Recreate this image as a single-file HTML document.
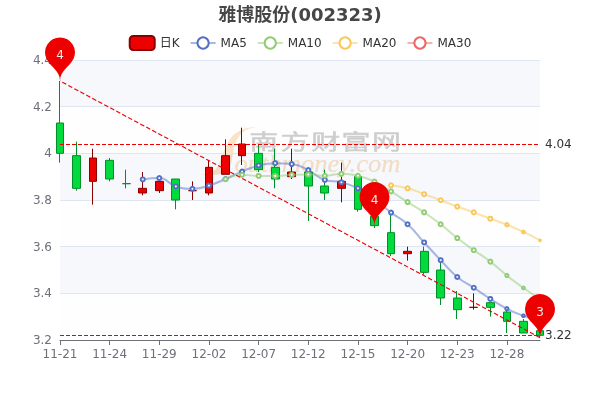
<!DOCTYPE html>
<html><head><meta charset="utf-8"><title>雅博股份(002323)</title>
<style>html,body{margin:0;padding:0;background:#fff;}#c{width:600px;height:400px;overflow:hidden;position:relative;}svg{display:block;will-change:transform}</style>
</head><body><div id="c"><svg width="600" height="400" version="1.1" baseProfile="full" viewBox="0 0 600 400">
<rect width="600" height="400" x="0" y="0" fill="none"></rect><g>
<path d="M256 127C244 127 235 132 230 139C225 147 222 155 219.5 163C217.5 169 213 173 201 174.5C212 175.5 222 175 227 171.5C231 167 232 160 233 153C234 145 237 137 243 132C247 129 251 127.8 256 127Z" fill="#f7cf9c" fill-opacity="0.72"/>
<text x="234.5" y="171.5" style="font-size:26px;font-family:'Liberation Serif',serif;font-style:italic;" fill="#f5c690" fill-opacity="0.6" stroke="#f5c690" stroke-opacity="0.3" stroke-width="0.3" textLength="166" lengthAdjust="spacingAndGlyphs">outhmoney.com</text>
<g style="font-size:21px;font-family:'Noto Sans CJK SC',sans-serif;font-weight:normal;" fill="#c3c3c3" stroke="#c3c3c3" stroke-width="0.5">
<text transform="translate(249.3 148.5) scale(1.38 1)">南</text>
<text transform="translate(280.5 148.5) scale(1.38 1)">方</text>
<text transform="translate(311.3 148.5) scale(1.38 1)">财</text>
<text transform="translate(341.4 148.5) scale(1.38 1)">富</text>
<text transform="translate(371.9 148.5) scale(1.38 1)">网</text>
</g>
</g>

<path d="M60 340l480 0l0 -46.6667l-480 0Z" fill="rgb(250,250,250)" fill-opacity="0.2"></path>
<path d="M60 293.3333l480 0l0 -46.6667l-480 0Z" fill="rgb(210,219,238)" fill-opacity="0.2"></path>
<path d="M60 246.6667l480 0l0 -46.6667l-480 0Z" fill="rgb(250,250,250)" fill-opacity="0.2"></path>
<path d="M60 200l480 0l0 -46.6667l-480 0Z" fill="rgb(210,219,238)" fill-opacity="0.2"></path>
<path d="M60 153.3333l480 0l0 -46.6667l-480 0Z" fill="rgb(250,250,250)" fill-opacity="0.2"></path>
<path d="M60 106.6667l480 0l0 -46.6667l-480 0Z" fill="rgb(210,219,238)" fill-opacity="0.2"></path>
<path d="M60 340.5L540 340.5" fill="none" stroke="#E0E6F1"></path>
<path d="M60 293.5L540 293.5" fill="none" stroke="#E0E6F1"></path>
<path d="M60 246.5L540 246.5" fill="none" stroke="#E0E6F1"></path>
<path d="M60 200.5L540 200.5" fill="none" stroke="#E0E6F1"></path>
<path d="M60 153.5L540 153.5" fill="none" stroke="#E0E6F1"></path>
<path d="M60 106.5L540 106.5" fill="none" stroke="#E0E6F1"></path>
<path d="M60 60.5L540 60.5" fill="none" stroke="#E0E6F1"></path>
<path d="M60 340.5L540 340.5" fill="none" stroke="#6E7079" stroke-linecap="round"></path>
<path d="M60.5 340L60.5 345" fill="none" stroke="#6E7079"></path>
<path d="M109.5 340L109.5 345" fill="none" stroke="#6E7079"></path>
<path d="M159.5 340L159.5 345" fill="none" stroke="#6E7079"></path>
<path d="M209.5 340L209.5 345" fill="none" stroke="#6E7079"></path>
<path d="M258.5 340L258.5 345" fill="none" stroke="#6E7079"></path>
<path d="M308.5 340L308.5 345" fill="none" stroke="#6E7079"></path>
<path d="M358.5 340L358.5 345" fill="none" stroke="#6E7079"></path>
<path d="M407.5 340L407.5 345" fill="none" stroke="#6E7079"></path>
<path d="M457.5 340L457.5 345" fill="none" stroke="#6E7079"></path>
<path d="M507.5 340L507.5 345" fill="none" stroke="#6E7079"></path>
<text dominant-baseline="central" text-anchor="end" style="font-size:12px;font-family:'DejaVu Sans', 'Noto Sans CJK SC', sans-serif;" transform="translate(52 340)" fill="#6E7079">3.2</text>
<text dominant-baseline="central" text-anchor="end" style="font-size:12px;font-family:'DejaVu Sans', 'Noto Sans CJK SC', sans-serif;" transform="translate(52 293.3333)" fill="#6E7079">3.4</text>
<text dominant-baseline="central" text-anchor="end" style="font-size:12px;font-family:'DejaVu Sans', 'Noto Sans CJK SC', sans-serif;" transform="translate(52 246.6667)" fill="#6E7079">3.6</text>
<text dominant-baseline="central" text-anchor="end" style="font-size:12px;font-family:'DejaVu Sans', 'Noto Sans CJK SC', sans-serif;" transform="translate(52 200)" fill="#6E7079">3.8</text>
<text dominant-baseline="central" text-anchor="end" style="font-size:12px;font-family:'DejaVu Sans', 'Noto Sans CJK SC', sans-serif;" transform="translate(52 153.3333)" fill="#6E7079">4</text>
<text dominant-baseline="central" text-anchor="end" style="font-size:12px;font-family:'DejaVu Sans', 'Noto Sans CJK SC', sans-serif;" transform="translate(52 106.6667)" fill="#6E7079">4.2</text>
<text dominant-baseline="central" text-anchor="end" style="font-size:12px;font-family:'DejaVu Sans', 'Noto Sans CJK SC', sans-serif;" transform="translate(52 60)" fill="#6E7079">4.4</text>
<text dominant-baseline="central" text-anchor="middle" style="font-size:12px;font-family:'DejaVu Sans', 'Noto Sans CJK SC', sans-serif;" y="6.0000457763671875" transform="translate(60 348)" fill="#6E7079">11-21</text>
<text dominant-baseline="central" text-anchor="middle" style="font-size:12px;font-family:'DejaVu Sans', 'Noto Sans CJK SC', sans-serif;" y="6.0000457763671875" transform="translate(109.6552 348)" fill="#6E7079">11-24</text>
<text dominant-baseline="central" text-anchor="middle" style="font-size:12px;font-family:'DejaVu Sans', 'Noto Sans CJK SC', sans-serif;" y="6.0000457763671875" transform="translate(159.3103 348)" fill="#6E7079">11-29</text>
<text dominant-baseline="central" text-anchor="middle" style="font-size:12px;font-family:'DejaVu Sans', 'Noto Sans CJK SC', sans-serif;" y="6.0000457763671875" transform="translate(208.9655 348)" fill="#6E7079">12-02</text>
<text dominant-baseline="central" text-anchor="middle" style="font-size:12px;font-family:'DejaVu Sans', 'Noto Sans CJK SC', sans-serif;" y="6.0000457763671875" transform="translate(258.6207 348)" fill="#6E7079">12-07</text>
<text dominant-baseline="central" text-anchor="middle" style="font-size:12px;font-family:'DejaVu Sans', 'Noto Sans CJK SC', sans-serif;" y="6.0000457763671875" transform="translate(308.2759 348)" fill="#6E7079">12-12</text>
<text dominant-baseline="central" text-anchor="middle" style="font-size:12px;font-family:'DejaVu Sans', 'Noto Sans CJK SC', sans-serif;" y="6.0000457763671875" transform="translate(357.931 348)" fill="#6E7079">12-15</text>
<text dominant-baseline="central" text-anchor="middle" style="font-size:12px;font-family:'DejaVu Sans', 'Noto Sans CJK SC', sans-serif;" y="6.0000457763671875" transform="translate(407.5862 348)" fill="#6E7079">12-20</text>
<text dominant-baseline="central" text-anchor="middle" style="font-size:12px;font-family:'DejaVu Sans', 'Noto Sans CJK SC', sans-serif;" y="6.0000457763671875" transform="translate(457.2414 348)" fill="#6E7079">12-23</text>
<text dominant-baseline="central" text-anchor="middle" style="font-size:12px;font-family:'DejaVu Sans', 'Noto Sans CJK SC', sans-serif;" y="6.0000457763671875" transform="translate(506.8966 348)" fill="#6E7079">12-28</text>
<path d="M56.5 123L63.5 123L63.5 153.3333L56.5 153.3333ZM59.5 81L59.5 123M59.5 162.6667L59.5 153.3333" fill="#00da3c" stroke="#008F28"></path>
<path d="M72.5 155.6667L80.5 155.6667L80.5 188.3333L72.5 188.3333ZM76.5 141.6667L76.5 155.6667M76.5 190.6667L76.5 188.3333" fill="#00da3c" stroke="#008F28"></path>
<path d="M89.5 158L96.5 158L96.5 181.3333L89.5 181.3333ZM92.5 148.6667L92.5 158M92.5 204.6667L92.5 181.3333" fill="#ec0000" stroke="#8A0000"></path>
<path d="M105.5 160.3333L113.5 160.3333L113.5 179L105.5 179ZM109.5 158L109.5 160.3333M109.5 181.3333L109.5 179" fill="#00da3c" stroke="#008F28"></path>
<path d="M122.5 183.6667L130.5 183.6667L122.5 183.6667ZM125.5 169.6667L125.5 183.6667M125.5 188.3333L125.5 183.6667" fill="#00da3c" stroke="#008F28"></path>
<path d="M138.5 188.3333L146.5 188.3333L146.5 193L138.5 193ZM142.5 172L142.5 188.3333M142.5 195.3333L142.5 193" fill="#ec0000" stroke="#8A0000"></path>
<path d="M155.5 181.3333L163.5 181.3333L163.5 190.6667L155.5 190.6667ZM159.5 179L159.5 181.3333M159.5 193L159.5 190.6667" fill="#ec0000" stroke="#8A0000"></path>
<path d="M171.5 179L179.5 179L179.5 200L171.5 200ZM175.5 179M175.5 209.3333L175.5 200" fill="#00da3c" stroke="#008F28"></path>
<path d="M188.5 190.6667L196.5 190.6667L188.5 190.6667ZM192.5 181.3333L192.5 190.6667M192.5 200L192.5 190.6667" fill="#ec0000" stroke="#8A0000"></path>
<path d="M205.5 167.3333L212.5 167.3333L212.5 193L205.5 193ZM208.5 160.3333L208.5 167.3333M208.5 195.3333L208.5 193" fill="#ec0000" stroke="#8A0000"></path>
<path d="M221.5 155.6667L229.5 155.6667L229.5 174.3333L221.5 174.3333ZM225.5 139.3333L225.5 155.6667M225.5 174.3333" fill="#ec0000" stroke="#8A0000"></path>
<path d="M238.5 144L245.5 144L245.5 155.6667L238.5 155.6667ZM241.5 127.6667L241.5 144M241.5 165L241.5 155.6667" fill="#ec0000" stroke="#8A0000"></path>
<path d="M254.5 153.3333L262.5 153.3333L262.5 169.6667L254.5 169.6667ZM258.5 144L258.5 153.3333M258.5 172L258.5 169.6667" fill="#00da3c" stroke="#008F28"></path>
<path d="M271.5 167.3333L279.5 167.3333L279.5 179L271.5 179ZM274.5 148.6667L274.5 167.3333M274.5 188.3333L274.5 179" fill="#00da3c" stroke="#008F28"></path>
<path d="M287.5 172L295.5 172L295.5 176.6667L287.5 176.6667ZM291.5 148.6667L291.5 172M291.5 179L291.5 176.6667" fill="#ec0000" stroke="#8A0000"></path>
<path d="M304.5 172L312.5 172L312.5 186L304.5 186ZM308.5 167.3333L308.5 172M308.5 221L308.5 186" fill="#00da3c" stroke="#008F28"></path>
<path d="M320.5 186L328.5 186L328.5 193L320.5 193ZM324.5 169.6667L324.5 186M324.5 200L324.5 193" fill="#00da3c" stroke="#008F28"></path>
<path d="M337.5 181.3333L345.5 181.3333L345.5 188.3333L337.5 188.3333ZM341.5 162.6667L341.5 181.3333M341.5 202.3333L341.5 188.3333" fill="#ec0000" stroke="#8A0000"></path>
<path d="M354.5 176.6667L361.5 176.6667L361.5 209.3333L354.5 209.3333ZM357.5 174.3333L357.5 176.6667M357.5 211.6667L357.5 209.3333" fill="#00da3c" stroke="#008F28"></path>
<path d="M370.5 216.3333L378.5 216.3333L378.5 225.6667L370.5 225.6667ZM374.5 214L374.5 216.3333M374.5 228L374.5 225.6667" fill="#00da3c" stroke="#008F28"></path>
<path d="M387.5 232.6667L394.5 232.6667L394.5 253.6667L387.5 253.6667ZM390.5 214L390.5 232.6667M390.5 256L390.5 253.6667" fill="#00da3c" stroke="#008F28"></path>
<path d="M403.5 251.3333L411.5 251.3333L411.5 253.6667L403.5 253.6667ZM407.5 246.6667L407.5 251.3333M407.5 260.6667L407.5 253.6667" fill="#ec0000" stroke="#8A0000"></path>
<path d="M420.5 251.3333L428.5 251.3333L428.5 272.3333L420.5 272.3333ZM423.5 246.6667L423.5 251.3333M423.5 274.6667L423.5 272.3333" fill="#00da3c" stroke="#008F28"></path>
<path d="M436.5 270L444.5 270L444.5 298L436.5 298ZM440.5 263L440.5 270M440.5 305L440.5 298" fill="#00da3c" stroke="#008F28"></path>
<path d="M453.5 298L461.5 298L461.5 309.6667L453.5 309.6667ZM456.5 291L456.5 298M456.5 319L456.5 309.6667" fill="#00da3c" stroke="#008F28"></path>
<path d="M469.5 307.3333L477.5 307.3333L469.5 307.3333ZM473.5 293.3333L473.5 307.3333M473.5 309.6667L473.5 307.3333" fill="#ec0000" stroke="#8A0000"></path>
<path d="M486.5 302.6667L494.5 302.6667L494.5 307.3333L486.5 307.3333ZM490.5 302.6667M490.5 316.6667L490.5 307.3333" fill="#00da3c" stroke="#008F28"></path>
<path d="M503.5 312L510.5 312L510.5 321.3333L503.5 321.3333ZM506.5 309.6667L506.5 312M506.5 333L506.5 321.3333" fill="#00da3c" stroke="#008F28"></path>
<path d="M519.5 321.3333L527.5 321.3333L527.5 333L519.5 333ZM523.5 319L523.5 321.3333M523.5 333" fill="#00da3c" stroke="#008F28"></path>
<path d="M536.5 330.6667L543.5 330.6667L543.5 335.3333L536.5 335.3333ZM539.5 330.6667M539.5 337.6667L539.5 335.3333" fill="#00da3c" stroke="#008F28"></path>
<g clip-path="url(#zr0-c0)">
<path d="M142.7586 179.4667C142.7586 179.4667 151.4934 178.0667 159.3103 178.0667C168.0451 178.0667 167.1532 183.8756 175.8621 186.4667C183.7049 188.8 184.1763 188.8 192.4138 188.8C200.728 188.8 200.9101 187.9181 208.9655 185.5333C217.4618 183.0181 217.325 182.4646 225.5172 179C233.8768 175.4646 233.6707 174.9667 242.069 171.5333C250.2224 168.2001 250.1248 167.6225 258.6207 165.4667C266.6765 163.4225 266.8624 163.1333 275.1724 163.1333C283.4141 163.1333 283.7024 163.1333 291.7242 164.0667C300.2542 165.0591 300.3607 166.3396 308.2758 170.1333C316.9125 174.2729 315.9716 177.2482 324.8276 179.9333C332.5233 182.2667 333.3235 180.2225 341.3793 182.2667C349.8752 184.4225 350.1201 184.3693 357.931 188.3333C366.6719 192.7693 366.5397 193.2439 374.4828 199.0667C383.0914 205.3773 382.534 206.129 391.0345 212.6C399.0857 218.729 400.1131 217.5243 407.5862 224.2667C416.6648 232.4576 415.8039 233.4202 424.1379 242.4667C432.3557 251.3869 432.2973 251.4451 440.6897 260.2C448.849 268.7118 448.2286 269.5037 457.2414 277C464.7803 283.2704 465.571 282.2856 473.7931 287.7333C482.1227 293.2523 481.9108 293.583 490.3448 298.9333C498.4625 304.083 498.3395 304.3906 506.8965 308.7333C514.8912 312.7906 515.022 312.6449 523.4483 315.7333C531.5737 318.7115 540 320.8667 540 320.8667" fill="none" stroke="#5470c6" stroke-width="2" stroke-opacity="0.5" stroke-linejoin="bevel"></path>
</g>
<g clip-path="url(#zr0-c1)">
<path d="M225.5172 179.2333C225.5172 179.2333 233.66 174.8 242.069 174.8C250.2117 174.8 250.3346 175.9667 258.6207 175.9667C266.8863 175.9667 266.9068 175.9667 275.1724 175.9667C283.4585 175.9667 283.4384 175.0339 291.7242 174.8C299.9902 174.5667 300.0098 174.5667 308.2758 174.5667C316.5616 174.5667 316.5676 175.7333 324.8276 175.7333C333.1193 175.7333 333.1034 173.8667 341.3793 173.8667C349.6552 173.8667 349.8712 173.8667 357.931 175.7333C366.4229 177.7001 366.5862 177.8374 374.4828 181.5667C383.1379 185.6541 382.8631 186.2981 391.0345 191.3667C399.4148 196.5648 399.2576 196.8165 407.5862 202.1C415.8093 207.3165 416.0506 206.9513 424.1379 212.3667C432.6024 218.0346 432.6395 218.025 440.6897 224.2667C449.1912 230.8583 448.7675 231.4034 457.2414 238.0333C465.3193 244.3534 465.4346 244.2162 473.7931 250.1667C481.9863 255.9995 482.3782 255.4793 490.3448 261.6C498.9299 268.1959 498.4219 268.85 506.8965 275.6C514.9736 282.0333 515.0077 282.0173 523.4483 287.9667C531.5595 293.6839 540 298.9333 540 298.9333" fill="none" stroke="#91cc75" stroke-width="2" stroke-opacity="0.5" stroke-linejoin="bevel"></path>
</g>
<g clip-path="url(#zr0-c2)">
<path d="M391.0345 185.3C391.0345 185.3 399.4842 186.1632 407.5862 188.3333C416.0359 190.5966 415.8806 191.1983 424.1379 194.1667C432.4324 197.1483 432.4329 197.1488 440.6897 200.2333C448.9847 203.3321 448.9278 203.4862 457.2414 206.5333C465.4796 209.5529 465.5549 209.3472 473.7931 212.3667C482.1066 215.4138 482.0498 215.5679 490.3448 218.6667C498.6016 221.7512 498.7215 221.4488 506.8965 224.7333C515.2732 228.0988 515.285 228.1115 523.4483 231.9667C531.8367 235.9281 540 240.3667 540 240.3667" fill="none" stroke="#fac858" stroke-width="2" stroke-opacity="0.5" stroke-linejoin="bevel"></path>
</g>
<g clip-path="url(#zr0-c3)">
<path d="" fill="none" stroke="#ee6666" stroke-width="2" stroke-opacity="0.5" stroke-linejoin="bevel"></path>
</g>
<path d="M1 0A1 1 0 1 1 1 -0.0001" transform="matrix(2,0,0,2,142.7586,179.4667)" fill="#fff" stroke="#5470c6"></path>
<path d="M1 0A1 1 0 1 1 1 -0.0001" transform="matrix(2,0,0,2,159.3103,178.0667)" fill="#fff" stroke="#5470c6"></path>
<path d="M1 0A1 1 0 1 1 1 -0.0001" transform="matrix(2,0,0,2,175.8621,186.4667)" fill="#fff" stroke="#5470c6"></path>
<path d="M1 0A1 1 0 1 1 1 -0.0001" transform="matrix(2,0,0,2,192.4138,188.8)" fill="#fff" stroke="#5470c6"></path>
<path d="M1 0A1 1 0 1 1 1 -0.0001" transform="matrix(2,0,0,2,208.9655,185.5333)" fill="#fff" stroke="#5470c6"></path>
<path d="M1 0A1 1 0 1 1 1 -0.0001" transform="matrix(2,0,0,2,225.5172,179)" fill="#fff" stroke="#5470c6"></path>
<path d="M1 0A1 1 0 1 1 1 -0.0001" transform="matrix(2,0,0,2,242.069,171.5333)" fill="#fff" stroke="#5470c6"></path>
<path d="M1 0A1 1 0 1 1 1 -0.0001" transform="matrix(2,0,0,2,258.6207,165.4667)" fill="#fff" stroke="#5470c6"></path>
<path d="M1 0A1 1 0 1 1 1 -0.0001" transform="matrix(2,0,0,2,275.1724,163.1333)" fill="#fff" stroke="#5470c6"></path>
<path d="M1 0A1 1 0 1 1 1 -0.0001" transform="matrix(2,0,0,2,291.7242,164.0667)" fill="#fff" stroke="#5470c6"></path>
<path d="M1 0A1 1 0 1 1 1 -0.0001" transform="matrix(2,0,0,2,308.2758,170.1333)" fill="#fff" stroke="#5470c6"></path>
<path d="M1 0A1 1 0 1 1 1 -0.0001" transform="matrix(2,0,0,2,324.8276,179.9333)" fill="#fff" stroke="#5470c6"></path>
<path d="M1 0A1 1 0 1 1 1 -0.0001" transform="matrix(2,0,0,2,341.3793,182.2667)" fill="#fff" stroke="#5470c6"></path>
<path d="M1 0A1 1 0 1 1 1 -0.0001" transform="matrix(2,0,0,2,357.931,188.3333)" fill="#fff" stroke="#5470c6"></path>
<path d="M1 0A1 1 0 1 1 1 -0.0001" transform="matrix(2,0,0,2,374.4828,199.0667)" fill="#fff" stroke="#5470c6"></path>
<path d="M1 0A1 1 0 1 1 1 -0.0001" transform="matrix(2,0,0,2,391.0345,212.6)" fill="#fff" stroke="#5470c6"></path>
<path d="M1 0A1 1 0 1 1 1 -0.0001" transform="matrix(2,0,0,2,407.5862,224.2667)" fill="#fff" stroke="#5470c6"></path>
<path d="M1 0A1 1 0 1 1 1 -0.0001" transform="matrix(2,0,0,2,424.1379,242.4667)" fill="#fff" stroke="#5470c6"></path>
<path d="M1 0A1 1 0 1 1 1 -0.0001" transform="matrix(2,0,0,2,440.6897,260.2)" fill="#fff" stroke="#5470c6"></path>
<path d="M1 0A1 1 0 1 1 1 -0.0001" transform="matrix(2,0,0,2,457.2414,277)" fill="#fff" stroke="#5470c6"></path>
<path d="M1 0A1 1 0 1 1 1 -0.0001" transform="matrix(2,0,0,2,473.7931,287.7333)" fill="#fff" stroke="#5470c6"></path>
<path d="M1 0A1 1 0 1 1 1 -0.0001" transform="matrix(2,0,0,2,490.3448,298.9333)" fill="#fff" stroke="#5470c6"></path>
<path d="M1 0A1 1 0 1 1 1 -0.0001" transform="matrix(1.6,0,0,1.6,506.8965,308.7333)" stroke-width="1.250" fill="#fff" stroke="#5470c6"></path>
<path d="M1 0A1 1 0 1 1 1 -0.0001" transform="matrix(1.35,0,0,1.35,523.4483,315.7333)" stroke-width="1.481" fill="#fff" stroke="#5470c6"></path>
<path d="M1 0A1 1 0 1 1 1 -0.0001" transform="matrix(0.8,0,0,0.8,540,320.8667)" stroke-width="2.500" fill="#fff" stroke="#5470c6"></path>
<path d="M1 0A1 1 0 1 1 1 -0.0001" transform="matrix(2,0,0,2,225.5172,179.2333)" fill="#fff" stroke="#91cc75"></path>
<path d="M1 0A1 1 0 1 1 1 -0.0001" transform="matrix(2,0,0,2,242.069,174.8)" fill="#fff" stroke="#91cc75"></path>
<path d="M1 0A1 1 0 1 1 1 -0.0001" transform="matrix(2,0,0,2,258.6207,175.9667)" fill="#fff" stroke="#91cc75"></path>
<path d="M1 0A1 1 0 1 1 1 -0.0001" transform="matrix(2,0,0,2,275.1724,175.9667)" fill="#fff" stroke="#91cc75"></path>
<path d="M1 0A1 1 0 1 1 1 -0.0001" transform="matrix(2,0,0,2,291.7242,174.8)" fill="#fff" stroke="#91cc75"></path>
<path d="M1 0A1 1 0 1 1 1 -0.0001" transform="matrix(2,0,0,2,308.2758,174.5667)" fill="#fff" stroke="#91cc75"></path>
<path d="M1 0A1 1 0 1 1 1 -0.0001" transform="matrix(2,0,0,2,324.8276,175.7333)" fill="#fff" stroke="#91cc75"></path>
<path d="M1 0A1 1 0 1 1 1 -0.0001" transform="matrix(2,0,0,2,341.3793,173.8667)" fill="#fff" stroke="#91cc75"></path>
<path d="M1 0A1 1 0 1 1 1 -0.0001" transform="matrix(2,0,0,2,357.931,175.7333)" fill="#fff" stroke="#91cc75"></path>
<path d="M1 0A1 1 0 1 1 1 -0.0001" transform="matrix(2,0,0,2,374.4828,181.5667)" fill="#fff" stroke="#91cc75"></path>
<path d="M1 0A1 1 0 1 1 1 -0.0001" transform="matrix(2,0,0,2,391.0345,191.3667)" fill="#fff" stroke="#91cc75"></path>
<path d="M1 0A1 1 0 1 1 1 -0.0001" transform="matrix(2,0,0,2,407.5862,202.1)" fill="#fff" stroke="#91cc75"></path>
<path d="M1 0A1 1 0 1 1 1 -0.0001" transform="matrix(2,0,0,2,424.1379,212.3667)" fill="#fff" stroke="#91cc75"></path>
<path d="M1 0A1 1 0 1 1 1 -0.0001" transform="matrix(2,0,0,2,440.6897,224.2667)" fill="#fff" stroke="#91cc75"></path>
<path d="M1 0A1 1 0 1 1 1 -0.0001" transform="matrix(2,0,0,2,457.2414,238.0333)" fill="#fff" stroke="#91cc75"></path>
<path d="M1 0A1 1 0 1 1 1 -0.0001" transform="matrix(2,0,0,2,473.7931,250.1667)" fill="#fff" stroke="#91cc75"></path>
<path d="M1 0A1 1 0 1 1 1 -0.0001" transform="matrix(2,0,0,2,490.3448,261.6)" fill="#fff" stroke="#91cc75"></path>
<path d="M1 0A1 1 0 1 1 1 -0.0001" transform="matrix(1.6,0,0,1.6,506.8965,275.6)" stroke-width="1.250" fill="#fff" stroke="#91cc75"></path>
<path d="M1 0A1 1 0 1 1 1 -0.0001" transform="matrix(1.35,0,0,1.35,523.4483,287.9667)" stroke-width="1.481" fill="#fff" stroke="#91cc75"></path>
<path d="M1 0A1 1 0 1 1 1 -0.0001" transform="matrix(0.8,0,0,0.8,540,298.9333)" stroke-width="2.500" fill="#fff" stroke="#91cc75"></path>
<path d="M1 0A1 1 0 1 1 1 -0.0001" transform="matrix(2,0,0,2,391.0345,185.3)" fill="#fff" stroke="#fac858"></path>
<path d="M1 0A1 1 0 1 1 1 -0.0001" transform="matrix(2,0,0,2,407.5862,188.3333)" fill="#fff" stroke="#fac858"></path>
<path d="M1 0A1 1 0 1 1 1 -0.0001" transform="matrix(2,0,0,2,424.1379,194.1667)" fill="#fff" stroke="#fac858"></path>
<path d="M1 0A1 1 0 1 1 1 -0.0001" transform="matrix(2,0,0,2,440.6897,200.2333)" fill="#fff" stroke="#fac858"></path>
<path d="M1 0A1 1 0 1 1 1 -0.0001" transform="matrix(2,0,0,2,457.2414,206.5333)" fill="#fff" stroke="#fac858"></path>
<path d="M1 0A1 1 0 1 1 1 -0.0001" transform="matrix(2,0,0,2,473.7931,212.3667)" fill="#fff" stroke="#fac858"></path>
<path d="M1 0A1 1 0 1 1 1 -0.0001" transform="matrix(2,0,0,2,490.3448,218.6667)" fill="#fff" stroke="#fac858"></path>
<path d="M1 0A1 1 0 1 1 1 -0.0001" transform="matrix(1.6,0,0,1.6,506.8965,224.7333)" stroke-width="1.250" fill="#fff" stroke="#fac858"></path>
<path d="M1 0A1 1 0 1 1 1 -0.0001" transform="matrix(1.35,0,0,1.35,523.4483,231.9667)" stroke-width="1.481" fill="#fff" stroke="#fac858"></path>
<path d="M1 0A1 1 0 1 1 1 -0.0001" transform="matrix(0.8,0,0,0.8,540,240.3667)" stroke-width="2.500" fill="#fff" stroke="#fac858"></path>
<path d="M-5 -5l352.5626 0l0 26l-352.5626 0Z" transform="translate(128.7187 35)" fill="rgb(0,0,0)" fill-opacity="0" stroke="#ccc" stroke-width="0"></path>
<path d="M3.5 0L21.5 0A3.5 3.5 0 0 1 25 3.5L25 10.5A3.5 3.5 0 0 1 21.5 14L3.5 14A3.5 3.5 0 0 1 0 10.5L0 3.5A3.5 3.5 0 0 1 3.5 0" transform="translate(129.7187 36)" fill="#ec0000" stroke="#8A0000" stroke-width="2" stroke-linecap="butt" stroke-miterlimit="10"></path>
<text dominant-baseline="central" text-anchor="start" style="font-size:12px;font-family:'DejaVu Sans', 'Noto Sans CJK SC', sans-serif;" x="30" y="7" transform="translate(129.7187 36)" fill="#333">日K</text>
<path d="M-1 -1l50.8692 0l0 16l-50.8692 0Z" transform="translate(129.7187 36)" fill="none"></path>
<path d="M0 7L25 7" transform="translate(190.5879 36)" fill="#000" fill-opacity="0.5" stroke="#5470c6" stroke-width="2" stroke-opacity="0.5" stroke-linecap="butt" stroke-miterlimit="10"></path>
<path d="M18.1 7A5.6 5.6 0 1 1 18.1 6.9994" transform="translate(190.5879 36)" fill="#fff" stroke="#5470c6" stroke-width="2" stroke-linecap="butt" stroke-miterlimit="10"></path>
<text dominant-baseline="central" text-anchor="start" style="font-size:12px;font-family:'DejaVu Sans', 'Noto Sans CJK SC', sans-serif;" x="30" y="7" transform="translate(190.5879 36)" fill="#333">MA5</text>
<path d="M-1 0.4l57.1973 0l0 13.2l-57.1973 0Z" transform="translate(190.5879 36)" fill="none"></path>
<path d="M0 7L25 7" transform="translate(257.7852 36)" fill="#000" fill-opacity="0.5" stroke="#91cc75" stroke-width="2" stroke-opacity="0.5" stroke-linecap="butt" stroke-miterlimit="10"></path>
<path d="M18.1 7A5.6 5.6 0 1 1 18.1 6.9994" transform="translate(257.7852 36)" fill="#fff" stroke="#91cc75" stroke-width="2" stroke-linecap="butt" stroke-miterlimit="10"></path>
<text dominant-baseline="central" text-anchor="start" style="font-size:12px;font-family:'DejaVu Sans', 'Noto Sans CJK SC', sans-serif;" x="30" y="7" transform="translate(257.7852 36)" fill="#333">MA10</text>
<path d="M-1 0.4l64.832 0l0 13.2l-64.832 0Z" transform="translate(257.7852 36)" fill="none"></path>
<path d="M0 7L25 7" transform="translate(332.6172 36)" fill="#000" fill-opacity="0.5" stroke="#fac858" stroke-width="2" stroke-opacity="0.5" stroke-linecap="butt" stroke-miterlimit="10"></path>
<path d="M18.1 7A5.6 5.6 0 1 1 18.1 6.9994" transform="translate(332.6172 36)" fill="#fff" stroke="#fac858" stroke-width="2" stroke-linecap="butt" stroke-miterlimit="10"></path>
<text dominant-baseline="central" text-anchor="start" style="font-size:12px;font-family:'DejaVu Sans', 'Noto Sans CJK SC', sans-serif;" x="30" y="7" transform="translate(332.6172 36)" fill="#333">MA20</text>
<path d="M-1 0.4l64.832 0l0 13.2l-64.832 0Z" transform="translate(332.6172 36)" fill="none"></path>
<path d="M0 7L25 7" transform="translate(407.4493 36)" fill="#000" fill-opacity="0.5" stroke="#ee6666" stroke-width="2" stroke-opacity="0.5" stroke-linecap="butt" stroke-miterlimit="10"></path>
<path d="M18.1 7A5.6 5.6 0 1 1 18.1 6.9994" transform="translate(407.4493 36)" fill="#fff" stroke="#ee6666" stroke-width="2" stroke-linecap="butt" stroke-miterlimit="10"></path>
<text dominant-baseline="central" text-anchor="start" style="font-size:12px;font-family:'DejaVu Sans', 'Noto Sans CJK SC', sans-serif;" x="30" y="7" transform="translate(407.4493 36)" fill="#333">MA30</text>
<path d="M-1 0.4l64.832 0l0 13.2l-64.832 0Z" transform="translate(407.4493 36)" fill="none"></path>
<path d="M540 337.6667L60 81" fill="none" stroke="#ec0000" stroke-width="1.13" stroke-dasharray="4.53,2.27"></path>
<path d="M60 335.5L540 335.5" fill="none" stroke="#ec0000" stroke-dasharray="4,2"></path>
<path d="M60 144.5L540 144.5" fill="none" stroke="#ec0000" stroke-dasharray="4,2"></path>
<path d="M-0.5421 -0.8857A0.6 0.6 0 1 1 0.5421 -0.8857C0.3878 -0.5605 0 -0.42 0 0C0 -0.42 -0.3878 -0.5605 -0.5421 -0.8857Z" transform="matrix(25,0,0,25,60,81)" fill="#ec0000"></path>
<path d="M-0.5421 -0.8857A0.6 0.6 0 1 1 0.5421 -0.8857C0.3878 -0.5605 0 -0.42 0 0C0 -0.42 -0.3878 -0.5605 -0.5421 -0.8857Z" transform="matrix(25,0,0,25,540,337.6667)" fill="#ec0000"></path>
<path d="M-0.5421 -0.8857A0.6 0.6 0 1 1 0.5421 -0.8857C0.3878 -0.5605 0 -0.42 0 0C0 -0.42 -0.3878 -0.5605 -0.5421 -0.8857Z" transform="matrix(25,0,0,25,374.4828,225.6667)" fill="#ec0000"></path>
<text dominant-baseline="central" text-anchor="start" style="font-size:12px;font-family:'DejaVu Sans', 'Noto Sans CJK SC', sans-serif;" transform="translate(545 335.3333)" fill="#333" stroke="rgb(255,255,255)" stroke-width="2" paint-order="stroke" stroke-miterlimit="2">3.22</text>
<text dominant-baseline="central" text-anchor="start" style="font-size:12px;font-family:'DejaVu Sans', 'Noto Sans CJK SC', sans-serif;" transform="translate(545 144)" fill="#333" stroke="rgb(255,255,255)" stroke-width="2" paint-order="stroke" stroke-miterlimit="2">4.04</text>
<text dominant-baseline="central" text-anchor="middle" style="font-size:12px;font-family:'DejaVu Sans', 'Noto Sans CJK SC', sans-serif;" transform="translate(60 54.8571)" fill="#eee" stroke="#ec0000" stroke-width="2" paint-order="stroke" stroke-miterlimit="2">4</text>
<text dominant-baseline="central" text-anchor="middle" style="font-size:12px;font-family:'DejaVu Sans', 'Noto Sans CJK SC', sans-serif;" transform="translate(540 311.5238)" fill="#eee" stroke="#ec0000" stroke-width="2" paint-order="stroke" stroke-miterlimit="2">3</text>
<text dominant-baseline="central" text-anchor="middle" style="font-size:12px;font-family:'DejaVu Sans', 'Noto Sans CJK SC', sans-serif;" transform="translate(374.4828 199.5238)" fill="#eee" stroke="#ec0000" stroke-width="2" paint-order="stroke" stroke-miterlimit="2">4</text>
<path d="M-86.7996 -5l173.5992 0l0 27.9999l-173.5992 0Z" transform="translate(300 5)" fill="rgb(0,0,0)" fill-opacity="0" stroke="#ccc" stroke-width="0"></path>
<text dominant-baseline="central" text-anchor="middle" style="font-size:18px;font-family:'DejaVu Sans', 'Noto Sans CJK SC', sans-serif;font-weight:bold;" y="8.999946594238281" transform="translate(300 5)" fill="#464646">雅博股份(002323)</text>
<defs >
<clipPath id="zr0-c0">
<path d="M59 59l482 0l0 282l-482 0Z" fill="#000"></path>
</clipPath>
<clipPath id="zr0-c1">
<path d="M59 59l482 0l0 282l-482 0Z" fill="#000"></path>
</clipPath>
<clipPath id="zr0-c2">
<path d="M59 59l482 0l0 282l-482 0Z" fill="#000"></path>
</clipPath>
<clipPath id="zr0-c3">
<path d="M59 59l482 0l0 282l-482 0Z" fill="#000"></path>
</clipPath>
</defs>

</svg></div></body></html>
